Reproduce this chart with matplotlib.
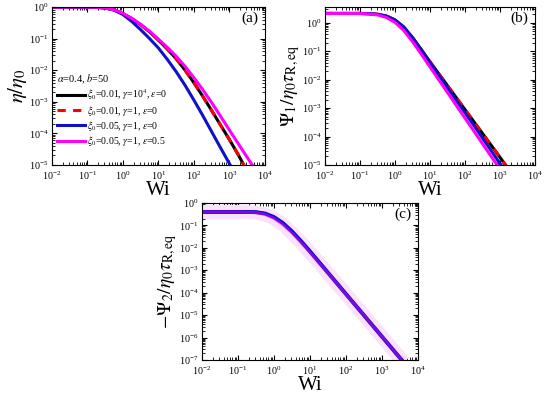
import numpy as np
import matplotlib
matplotlib.use("Agg")
import matplotlib.pyplot as plt
from matplotlib.ticker import LogLocator, NullFormatter

plt.rcParams['font.family'] = ['Liberation Serif', 'DejaVu Serif']
plt.rcParams['mathtext.fontset'] = 'stix'

# === DANE (log10 wartości) ===
# (a) eta/eta0
a_blue_x = [-2, -1.5, -1, -0.75, -0.5, -0.25, 0, 0.25, 0.5, 0.75, 1.0, 1.25, 1.5, 1.75, 2.0, 2.25, 2.5, 2.75, 3.02, 3.1]
a_blue_y = [0, 0, -0.003, -0.01, -0.03, -0.1, -0.24, -0.46, -0.72, -1.0, -1.3, -1.66, -2.05, -2.48, -2.95, -3.44, -3.95, -4.46, -5.0, -5.16]
a_black_x = [-2, -1.5, -1, -0.75, -0.5, -0.25, 0, 0.25, 0.5, 0.75, 1.0, 1.25, 1.5, 1.75, 2.0, 2.25, 2.5, 2.75, 3.0, 3.25, 3.45]
a_black_y = [0, 0, -0.003, -0.01, -0.03, -0.09, -0.21, -0.37, -0.56, -0.79, -1.05, -1.33, -1.64, -2.0, -2.4, -2.83, -3.28, -3.74, -4.2, -4.68, -5.1]
a_mag_x = [-2, -1.5, -1, -0.75, -0.5, -0.25, 0, 0.25, 0.5, 0.75, 1.0, 1.25, 1.5, 1.75, 2.0, 2.25, 2.5, 2.75, 3.0, 3.25, 3.5, 3.7]
a_mag_y = [0, 0, -0.003, -0.01, -0.03, -0.09, -0.2, -0.36, -0.55, -0.77, -1.02, -1.28, -1.56, -1.88, -2.24, -2.62, -3.03, -3.46, -3.9, -4.33, -4.76, -5.1]

# (b) Psi1/eta0 tau
b_blue_x = [-2, -1.5, -1, -0.75, -0.5, -0.25, 0, 0.25, 0.5, 0.75, 1.0, 1.25, 1.5, 1.75, 2.0, 2.25, 2.5, 2.75, 3.03, 3.1]
b_blue_y = [0.33, 0.33, 0.33, 0.32, 0.3, 0.24, 0.1, -0.15, -0.52, -0.95, -1.4, -1.84, -2.28, -2.72, -3.16, -3.6, -4.05, -4.5, -5.0, -5.12]
b_black_x = [-2, -1.5, -1, -0.75, -0.5, -0.25, 0, 0.25, 0.5, 0.75, 1.0, 1.25, 1.5, 1.75, 2.0, 2.25, 2.5, 2.75, 3.0, 3.2]
b_black_y = [0.33, 0.33, 0.33, 0.32, 0.3, 0.24, 0.1, -0.15, -0.52, -0.94, -1.37, -1.79, -2.21, -2.63, -3.05, -3.47, -3.89, -4.31, -4.73, -5.07]
b_mag_x = [-2, -1.5, -1, -0.75, -0.5, -0.25, 0, 0.25, 0.5, 0.75, 1.0, 1.25, 1.5, 1.75, 2.0, 2.25, 2.5, 2.75, 2.92, 3.0]
b_mag_y = [0.33, 0.33, 0.33, 0.31, 0.28, 0.19, 0.02, -0.27, -0.66, -1.1, -1.55, -2.0, -2.45, -2.9, -3.35, -3.8, -4.25, -4.7, -5.0, -5.14]

# (c) -Psi2/eta0 tau
c_x = [-2, -1.5, -1, -0.75, -0.5, -0.25, 0, 0.25, 0.5, 0.75, 1.0, 1.25, 1.5, 1.75, 2.0, 2.25, 2.5, 2.75, 3.0, 3.25, 3.5, 3.6]
c_y = [-0.4, -0.4, -0.4, -0.4, -0.41, -0.47, -0.63, -0.9, -1.27, -1.7, -2.16, -2.635, -3.11, -3.585, -4.06, -4.535, -5.01, -5.485, -5.96, -6.435, -6.91, -7.1]
c_mag_y = [-0.4, -0.4, -0.4, -0.41, -0.43, -0.51, -0.69, -0.97, -1.34, -1.76, -2.21, -2.67, -3.13, -3.6, -4.07, -4.54, -5.01, -5.485, -5.96, -6.435, -6.91, -7.1]

labels = [r'$\xi_0$=0.01, $\gamma$=10$^4$, $\varepsilon$=0',
          r'$\xi_0$=0.01, $\gamma$=1, $\varepsilon$=0',
          r'$\xi_0$=0.05, $\gamma$=1, $\varepsilon$=0',
          r'$\xi_0$=0.05, $\gamma$=1, $\varepsilon$=0.5']

BLACK, RED, BLUE, MAG = '#000000', '#ff0000', '#1010c8', '#ff00ff'
LW = 2.2
DASH = (2.7, 2.4)

def p(v):
    return 10.0 ** np.asarray(v)

def style_axes(ax, ylim, label):
    ax.set_xscale('log')
    ax.set_yscale('log')
    ax.set_xlim(1e-2, 1e4)
    ax.set_ylim(*ylim)
    ax.xaxis.set_major_locator(LogLocator(base=10, numticks=20))
    ax.yaxis.set_major_locator(LogLocator(base=10, numticks=20))
    ax.xaxis.set_minor_locator(LogLocator(base=10, subs=np.arange(2, 10), numticks=20))
    ax.yaxis.set_minor_locator(LogLocator(base=10, subs=np.arange(2, 10), numticks=20))
    ax.xaxis.set_minor_formatter(NullFormatter())
    ax.yaxis.set_minor_formatter(NullFormatter())
    ax.tick_params(which='both', direction='in', top=True, right=True, labelsize=7.2)
    ax.tick_params(axis='x', which='major', pad=3.5)
    ax.tick_params(axis='y', which='major', pad=2.5)
    ax.tick_params(which='major', length=3.5, width=0.8)
    ax.tick_params(which='minor', length=2, width=0.6)
    ax.set_xlabel('Wi', fontsize=15, labelpad=-1)
    ax.text(0.97, 0.93, label, transform=ax.transAxes, ha='right', va='center', fontsize=11)

fig = plt.figure(figsize=(5.5, 3.98), dpi=100)
ax_a = fig.add_axes([0.0945, 0.5854, 0.3873, 0.397])
ax_b = fig.add_axes([0.5909, 0.5854, 0.3818, 0.397])
ax_c = fig.add_axes([0.3673, 0.0955, 0.3927, 0.3945])

# === (a) ===
ax_a.plot(p(a_black_x), p(a_black_y), color=BLACK, lw=LW, label=labels[0])
ax_a.plot(p(a_black_x), p(a_black_y), color=RED, lw=LW, dashes=DASH, label=labels[1])
ax_a.plot(p(a_blue_x), p(a_blue_y), color=BLUE, lw=LW, label=labels[2])
ax_a.plot(p(a_mag_x), p(a_mag_y), color=MAG, lw=LW, label=labels[3])
style_axes(ax_a, (1e-5, 1e0), '(a)')
ax_a.set_ylabel(r'$\eta/\eta_0$', fontsize=15, labelpad=0)
leg = ax_a.legend(loc='upper left', bbox_to_anchor=(0.02, 0.59), frameon=False, fontsize=7,
                  title=r'$\alpha$=0.4, $b$=50', title_fontsize=7.5, handlelength=2.9,
                  handletextpad=0.2, labelspacing=0.12, borderpad=0.1, borderaxespad=0.0)
leg._legend_box.align = 'left'
leg._legend_box.sep = 1

# === (b) ===
ax_b.plot(p(b_black_x), p(b_black_y), color=BLACK, lw=LW)
ax_b.plot(p(b_black_x), p(b_black_y), color=RED, lw=LW, dashes=DASH)
ax_b.plot(p(b_blue_x), p(b_blue_y), color=BLUE, lw=LW)
ax_b.plot(p(b_mag_x), p(b_mag_y), color=MAG, lw=LW)
style_axes(ax_b, (1e-5, 3.6), '(b)')
ax_b.set_ylabel(r'$\Psi_1/\eta_0\tau_{\mathrm{R,eq}}$', fontsize=14, labelpad=0)

# === (c) ===
ax_c.plot(p(c_x), p(c_mag_y), color='#fbe2fb', lw=10, solid_capstyle='butt')
ax_c.plot(p(c_x), p(c_y), color=BLACK, lw=LW)
ax_c.plot(p(c_x), p(c_y), color=BLUE, lw=LW + 0.6)
ax_c.plot(p(c_x), p(c_mag_y), color=MAG, lw=LW, alpha=0.45)
style_axes(ax_c, (1e-7, 1e0), '(c)')
ax_c.set_ylabel(r'$-\Psi_2/\eta_0\tau_{\mathrm{R,eq}}$', fontsize=14, labelpad=0)

fig.savefig('out.png', dpi=100)
